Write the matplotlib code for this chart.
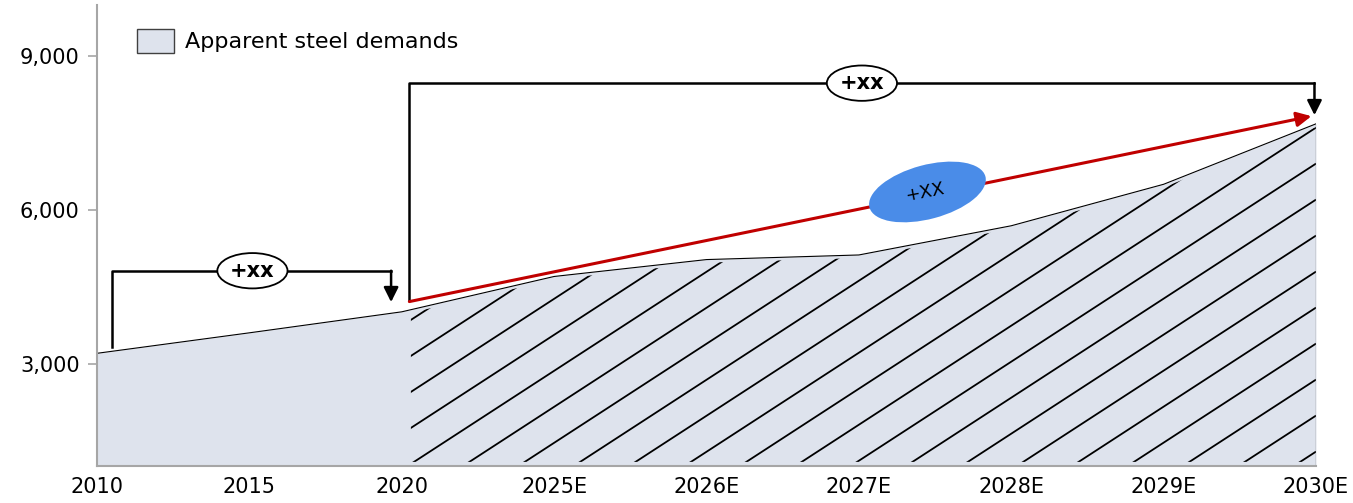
import numpy as np
import matplotlib
matplotlib.use("Agg")
import matplotlib.pyplot as plt
from matplotlib.patches import Ellipse, Patch, Polygon
from matplotlib.collections import LineCollection
from matplotlib import transforms

# data
years = ['2010', '2015', '2020', '2025E', '2026E', '2027E', '2028E', '2029E', '2030E']
demand = [3200, 3600, 4010, 4700, 5030, 5120, 5690, 6500, 7680]
yticks = [3000, 6000, 9000]

fill_color = '#dee3ed'
red = '#c00000'
blue = '#4a8ce8'

plt.rcParams['font.family'] = ['DejaVu Sans']

fig = plt.figure(figsize=(13.53, 5.03), dpi=100)
ax_w, ax_h = 1219, 461
ax = fig.add_axes([97 / 1353, 37 / 503, ax_w / 1353, ax_h / 503])

x = np.arange(len(years))
ax.set_xlim(0, len(years) - 1)
ax.set_ylim(1000, 10000)

ax.fill_between(x, 1000, demand, color=fill_color, lw=0, zorder=1)
ax.plot(x, demand, color='black', lw=0.8, zorder=3)
ax.plot([x[-1], x[-1]], [1000, demand[-1]], color='#808080', lw=1, zorder=3)

# diagonal hatch over the forecast part, clipped to the area
kx = ax_w / (len(years) - 1)
ky = ax_h / 9000
slope = 0.65 * kx / ky
step = 36 / ky
i0 = years.index('2020')
h0 = x[i0] + 0.06
clip_xy = ([(h0, 1080), (h0, np.interp(h0, x, demand) - 60)]
           + [(xi, d - 60) for xi, d in zip(x[i0 + 1:-1], demand[i0 + 1:-1])]
           + [(x[-1], demand[-1] - 60), (x[-1], 1080)])
clip = Polygon(clip_xy, closed=True, transform=ax.transData, fc='none', ec='none')
ax.add_patch(clip)
segs = []
b = 1000 - slope * (x[-1] - x[i0]) + step * 0.4
while b < max(demand):
    segs.append([(x[i0], b), (x[-1], b + slope * (x[-1] - x[i0]))])
    b += step
hatch = LineCollection(segs, colors='black', linewidths=1.3, zorder=2)
ax.add_collection(hatch)
hatch.set_clip_path(clip)

# bracket 2010 -> 2020
ax.plot([0.1, 0.1, 1.93], [3330, 4812, 4812], color='black', lw=1.8, zorder=4)
ax.annotate('', xy=(1.93, 4200), xytext=(1.93, 4812),
            arrowprops=dict(arrowstyle='-|>', color='black', lw=1.8,
                            mutation_scale=22, shrinkA=0, shrinkB=0), zorder=4)
ax.text(1.02, 4812, '+xx', ha='center', va='center', fontsize=15, fontweight='bold',
        zorder=5, bbox=dict(boxstyle='ellipse,pad=0.12', fc='white', ec='black', lw=1.3))

# bracket 2020 -> 2030E
ax.plot([2.05, 2.05, 7.99], [4250, 8474, 8474], color='black', lw=1.8, zorder=4)
ax.annotate('', xy=(7.99, 7850), xytext=(7.99, 8474),
            arrowprops=dict(arrowstyle='-|>', color='black', lw=1.8,
                            mutation_scale=22, shrinkA=0, shrinkB=0), zorder=4)
ax.text(5.02, 8474, '+xx', ha='center', va='center', fontsize=15, fontweight='bold',
        zorder=5, bbox=dict(boxstyle='ellipse,pad=0.12', fc='white', ec='black', lw=1.3))

# red growth arrow
ax.annotate('', xy=(7.97, 7830), xytext=(2.05, 4210),
            arrowprops=dict(arrowstyle='-|>', color=red, lw=2.2,
                            mutation_scale=22, shrinkA=0, shrinkB=0), zorder=4)

# blue callout
bx, by = 5.45, 6350
tr = fig.dpi_scale_trans + transforms.ScaledTranslation(bx, by, ax.transData)
ax.add_patch(Ellipse((0, 0), 1.2, 0.54, angle=15, transform=tr, fc=blue, ec='none', zorder=6))
ax.text(bx - 0.02, by, '+XX', ha='center', va='center', rotation=11, fontsize=13, zorder=7)

# axes styling
for s in ['top', 'right']:
    ax.spines[s].set_visible(False)
for s in ['left', 'bottom']:
    ax.spines[s].set_color('#a6a6a6')
    ax.spines[s].set_linewidth(1.5)
    ax.spines[s].set_zorder(8)
ax.set_xticks(x)
ax.set_xticklabels(years)
ax.set_yticks(yticks)
ax.set_yticklabels([f'{v:,}' for v in yticks])
ax.tick_params(axis='x', length=0, labelsize=15, pad=8)
ax.tick_params(axis='y', length=6.5, width=1.2, color='#a6a6a6', labelsize=15, pad=6)

ax.legend(handles=[Patch(facecolor=fill_color, edgecolor='#404040', lw=1)],
          labels=['Apparent steel demands'], loc='center left',
          bbox_to_anchor=(0.033, 0.922), frameon=False, fontsize=16,
          handlelength=1.67, handleheight=1.26, handletextpad=0.5,
          borderpad=0, borderaxespad=0)

fig.savefig('out.png', dpi=100)
